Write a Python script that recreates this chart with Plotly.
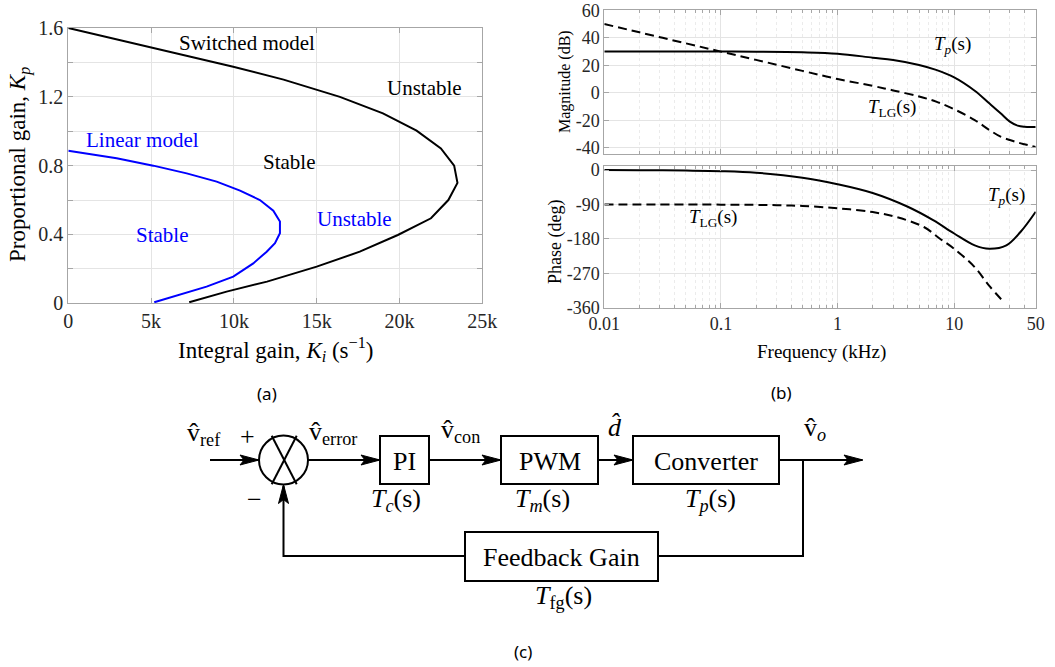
import plotly.graph_objects as go

W, H = 1055, 667

# ---------------- Panel (a) data: stability boundaries ----------------
switched_ki = [0, 4930, 9960, 13000, 16400, 19000, 21030, 22500, 23300, 23500,
               22950, 21900, 19900, 17600, 15000, 12000, 9560, 7300]
switched_kp = [1.6, 1.49, 1.375, 1.30, 1.20, 1.104, 1.003, 0.90, 0.80, 0.70,
               0.60, 0.494, 0.397, 0.30, 0.213, 0.126, 0.068, 0.006]
linear_ki = [0, 2920, 5130, 7150, 8960, 10370, 11570, 12380, 12780, 12780,
             12480, 11980, 11170, 9960, 8350, 6940, 5190]
linear_kp = [0.887, 0.843, 0.80, 0.755, 0.707, 0.655, 0.60, 0.538, 0.475, 0.407,
             0.349, 0.30, 0.232, 0.155, 0.097, 0.058, 0.006]
a_xticks = [0, 5000, 10000, 15000, 20000, 25000]
a_xticktext = ["0", "5k", "10k", "15k", "20k", "25k"]
a_yticks = [0, 0.2, 0.4, 0.6, 0.8, 1.0, 1.2, 1.4, 1.6]
a_yticktext = ["0", "", "0.4", "", "0.8", "", "1.2", "", "1.6"]

# ---------------- Panel (b) data: Bode plots ----------------
freq_mag = [0.01, 0.02, 0.05, 0.1, 0.2, 0.5, 1, 2, 3, 5, 7, 10, 15, 20, 25, 30, 35, 40, 50]
tp_mag = [30, 30, 30, 30, 29.9, 29.5, 28.5, 25.6, 23.9, 20.3, 16.7, 11.3, 1.6, -7.6,
          -14.8, -20.9, -23.8, -24.6, -24.7]
tlg_mag = [50, 44, 36, 30, 24, 16, 10.1, 5.1, 1.8, -2.6, -6.3, -11.9, -19.7, -26.9,
           -31.8, -34.2, -36.0, -37.3, -39.3]
freq_ph_tp = [0.01, 0.02, 0.05, 0.1, 0.2, 0.5, 1, 2, 4, 6.6, 10, 15, 20, 28, 37, 50]
tp_phase = [0, -0.5, -1.5, -3, -7, -20, -37, -60, -96, -131, -166, -197, -206, -197, -162, -109]
freq_ph_lg = [0.01, 0.1, 0.3, 0.5, 1, 2, 3.2, 5.5, 7.5, 10, 15, 20, 26.4]
tlg_phase = [-90, -90.5, -92, -94, -100, -110, -123, -149, -179, -206, -254, -303, -344]
f_ticks = [0.01, 0.1, 1, 10, 50]
f_ticktext = ["0.01", "0.1", "1", "10", "50"]
mag_ticks = [60, 40, 20, 0, -20, -40]
mag_ticktext = ["60", "40", "20", "0", "-20", "-40"]
ph_ticks = [0, -90, -180, -270, -360]
ph_ticktext = ["0", "-90", "-180", "-270", "-360"]
minor_f = [m * d for d in (0.01, 0.1, 1, 10) for m in range(2, 10)]
minor_f = [v for v in minor_f if v < 50]

# ---------------- Panel (c) text ----------------
block_names = ["PI", "PWM", "Converter", "Feedback Gain"]
block_tf = ["<i>T</i><sub><i>c</i></sub>(s)", "<i>T</i><sub><i>m</i></sub>(s)",
            "<i>T</i><sub><i>p</i></sub>(s)", "<i>T</i><sub>fg</sub>(s)"]
signal_names = ["v\u0302<sub>ref</sub>", "v\u0302<sub>error</sub>", "v\u0302<sub>con</sub>",
                "<i>d\u0302</i>", "v\u0302<sub><i>o</i></sub>"]

SERIF = "'Liberation Serif', 'Times New Roman', 'DejaVu Serif', serif"
SANS = "'Noto Sans', 'Open Sans', sans-serif"
AX = "#a6a6a6"
GRID = "#e4e4e4"


def X(px):
    return px / W


def Y(py):
    return 1 - py / H


fig = go.Figure()

# panel (a)
fig.add_trace(go.Scatter(x=switched_ki, y=switched_kp, mode="lines",
                         line=dict(color="black", width=2), xaxis="x", yaxis="y"))
fig.add_trace(go.Scatter(x=linear_ki, y=linear_kp, mode="lines",
                         line=dict(color="#0000ff", width=2), xaxis="x", yaxis="y"))
# panel (b)
fig.add_trace(go.Scatter(x=freq_mag, y=tp_mag, mode="lines", line_shape="spline",
                         line=dict(color="black", width=2), xaxis="x2", yaxis="y2"))
fig.add_trace(go.Scatter(x=freq_mag, y=tlg_mag, mode="lines", line_shape="spline",
                         line=dict(color="black", width=2, dash="9px,5px"), xaxis="x2", yaxis="y2"))
fig.add_trace(go.Scatter(x=freq_ph_tp, y=tp_phase, mode="lines", line_shape="spline",
                         line=dict(color="black", width=2), xaxis="x3", yaxis="y3"))
fig.add_trace(go.Scatter(x=freq_ph_lg, y=tlg_phase, mode="lines", line_shape="spline",
                         line=dict(color="black", width=2, dash="9px,5px"), xaxis="x3", yaxis="y3"))

tickfont = dict(family=SERIF, size=20, color="#262626")
bfont = dict(family=SERIF, size=18, color="#262626")

common = dict(showline=True, mirror="allticks", linecolor=AX, linewidth=1, ticks="inside",
              ticklen=5, tickcolor=AX, showgrid=True, gridcolor=GRID, zeroline=False,
              automargin=False)

log_minor = dict(tickvals=minor_f, ticks="inside", ticklen=3, tickcolor=AX,
                 showgrid=True, gridcolor="#ebebeb", griddash="dot")

fig.update_layout(
    width=W, height=H, margin=dict(l=0, r=0, t=0, b=0, autoexpand=False),
    paper_bgcolor="white", plot_bgcolor="white", showlegend=False,
    font=dict(family=SERIF),
    xaxis=dict(domain=[X(68.3), X(482.3)], range=[0, 25000], tickvals=a_xticks,
               ticktext=a_xticktext, tickfont=tickfont, anchor="y", **common),
    yaxis=dict(domain=[Y(303.3), Y(28)], range=[0, 1.6], tickvals=a_yticks,
               ticktext=a_yticktext, tickfont=tickfont, anchor="x", **common),
    xaxis2=dict(domain=[X(604.3), X(1035.7)], type="log", range=[-2, 1.69897],
                tickvals=f_ticks, showticklabels=False, anchor="y2", minor=log_minor, **common),
    yaxis2=dict(domain=[Y(154.3), Y(10.3)], range=[-44.6, 60], tickvals=mag_ticks,
                ticktext=mag_ticktext, tickfont=bfont, anchor="x2", **common),
    xaxis3=dict(domain=[X(604.3), X(1035.7)], type="log", range=[-2, 1.69897],
                tickvals=f_ticks, ticktext=f_ticktext, tickfont=bfont, anchor="y3",
                minor=log_minor, **common),
    yaxis3=dict(domain=[Y(307.7), Y(166)], range=[-360, 10.5], tickvals=ph_ticks,
                ticktext=ph_ticktext, tickfont=bfont, anchor="x3", **common),
)

ann = []


def text(px, py, s, size, color="black", family=SERIF, angle=0, xanchor="center"):
    ann.append(dict(x=X(px), y=Y(py), xref="paper", yref="paper", text=s, showarrow=False,
                    font=dict(family=family, size=size, color=color), textangle=angle,
                    xanchor=xanchor, yanchor="middle"))


# panel (a) texts
text(247, 43, "Switched model", 21)
text(424, 88, "Unstable", 21)
text(289, 162, "Stable", 21)
text(142, 140, "Linear model", 21, color="#0000ff")
text(354, 219, "Unstable", 21, color="#0000ff")
text(162, 235, "Stable", 21, color="#0000ff")
text(20, 165, "Proportional gain, <i>K</i><sub><i>p</i></sub>", 23, angle=-90)
text(275, 349, "Integral gain, <i>K</i><sub><i>i</i></sub> (s<sup>\u22121</sup>)", 23)

# panel (b) texts
text(565, 82, "Magnitude (dB)", 16, angle=-90)
text(555, 242, "Phase (deg)", 18, angle=-90)
text(821, 352, "Frequency (kHz)", 19)
text(952, 45, "<i>T</i><sub><i>p</i></sub>(s)", 19)
text(892, 108, "<i>T</i><sub>LG</sub>(s)", 19)
text(1006, 196, "<i>T</i><sub><i>p</i></sub>(s)", 19)
text(713, 218, "<i>T</i><sub>LG</sub>(s)", 19)

# panel labels
text(267, 393, "(a)", 17, family=SANS)
text(781, 392, "(b)", 17, family=SANS)
text(523, 651, "(c)", 17, family=SANS)

# ---------------- Panel (c) block diagram ----------------
shapes = []
LW = 2


def line(pts):
    p = "M " + " L ".join(f"{X(x)},{Y(y)}" for x, y in pts)
    shapes.append(dict(type="path", xref="paper", yref="paper", path=p,
                       line=dict(color="black", width=LW)))


def rect(x0, y0, x1, y1):
    shapes.append(dict(type="rect", xref="paper", yref="paper", x0=X(x0), x1=X(x1),
                       y0=Y(y1), y1=Y(y0), line=dict(color="black", width=LW),
                       fillcolor="white"))


def arrow_h(tx, ty):
    pts = [(tx, ty), (tx - 19, ty - 5), (tx - 15, ty), (tx - 19, ty + 5)]
    p = "M " + " L ".join(f"{X(x)},{Y(y)}" for x, y in pts) + " Z"
    shapes.append(dict(type="path", xref="paper", yref="paper", path=p,
                       fillcolor="black", line=dict(color="black", width=1)))


def arrow_up(tx, ty):
    pts = [(tx, ty), (tx - 5, ty + 19), (tx, ty + 15), (tx + 5, ty + 19)]
    p = "M " + " L ".join(f"{X(x)},{Y(y)}" for x, y in pts) + " Z"
    shapes.append(dict(type="path", xref="paper", yref="paper", path=p,
                       fillcolor="black", line=dict(color="black", width=1)))


yc = 460
# signal lines
line([(210, yc), (258, yc)])
arrow_h(259, yc)
line([(308, yc), (379, yc)])
arrow_h(380, yc)
line([(429, yc), (500, yc)])
arrow_h(501, yc)
line([(598, yc), (632, yc)])
arrow_h(633, yc)
line([(779, yc), (862, yc)])
arrow_h(863, yc)
# feedback path
line([(803, yc), (803, 556), (658, 556)])
line([(465, 556), (283.5, 556), (283.5, 486)])
arrow_up(283.5, 484.5)

# summing junction
shapes.append(dict(type="circle", xref="paper", yref="paper", x0=X(259), x1=X(308),
                   y0=Y(484.5), y1=Y(435.5), line=dict(color="black", width=LW)))
line([(271.7, 435.7), (296.7, 484.3)])
line([(296.7, 435.7), (271.7, 484.3)])

# blocks
rect(380, 436, 429, 484)
rect(501, 436, 598, 484)
rect(633, 436, 779, 484)
rect(465, 532, 658, 581)

fig.update_layout(shapes=shapes)

text(404.5, 461, block_names[0], 26)
text(549.5, 461, block_names[1], 26)
text(706, 461, block_names[2], 26)
text(561.5, 557, block_names[3], 26)
text(396, 500, block_tf[0], 26)
text(542, 500, block_tf[1], 26)
text(710.5, 500, block_tf[2], 26)
text(563, 597, block_tf[3], 26)

text(204, 434, signal_names[0], 26)
text(333, 433, signal_names[1], 26)
text(460, 431, signal_names[2], 26)
text(615, 427, signal_names[3], 26)
text(815, 429, signal_names[4], 26)
text(247.5, 436, "+", 26)
text(254, 500, "\u2212", 26)

fig.update_layout(annotations=ann)

fig.write_html("out.html")
